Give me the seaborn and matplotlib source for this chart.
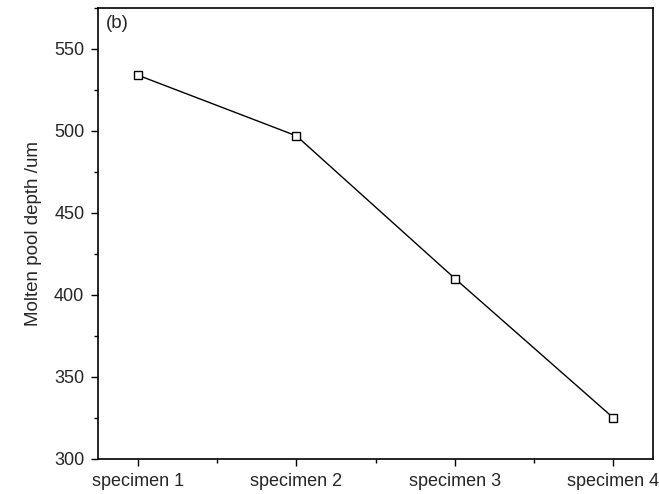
import pandas as pd
import seaborn as sns
import matplotlib.pyplot as plt
from matplotlib.ticker import MultipleLocator

# values
specimens = ["specimen 1", "specimen 2", "specimen 3", "specimen 4"]
depth = [534, 497, 410, 325]

df = pd.DataFrame({"specimen": specimens, "depth": depth})

sns.set_style("ticks")
plt.rcParams['font.family'] = ['Liberation Sans', 'DejaVu Sans']

fig = plt.figure(figsize=(6.59, 4.94), dpi=100)
ax = fig.add_axes([0.149, 0.071, 0.842, 0.913])

sns.lineplot(data=df, x="specimen", y="depth", ax=ax, color="black", linewidth=1,
             marker="s", markersize=6, markerfacecolor="white",
             markeredgecolor="black", markeredgewidth=1)

ax.set_xlim(-0.25, 3.25)
ax.set_ylim(300, 575)
ax.yaxis.set_major_locator(MultipleLocator(50))
ax.yaxis.set_minor_locator(MultipleLocator(25))
ax.xaxis.set_minor_locator(MultipleLocator(0.5))

ax.set_xlabel("")
ax.set_ylabel("Molten pool depth /um", fontsize=13.5, labelpad=9)
ax.tick_params(axis="both", which="major", labelsize=13, length=5, width=1,
               direction="out", color="black", pad=5)
ax.tick_params(axis="both", which="minor", length=3, width=1,
               direction="out", color="black")
for s in ax.spines.values():
    s.set_color("black")
    s.set_linewidth(1.2)

ax.text(0.014, 0.985, "(b)", transform=ax.transAxes, fontsize=13.5,
        ha="left", va="top")

fig.savefig("out.png", dpi=100)
